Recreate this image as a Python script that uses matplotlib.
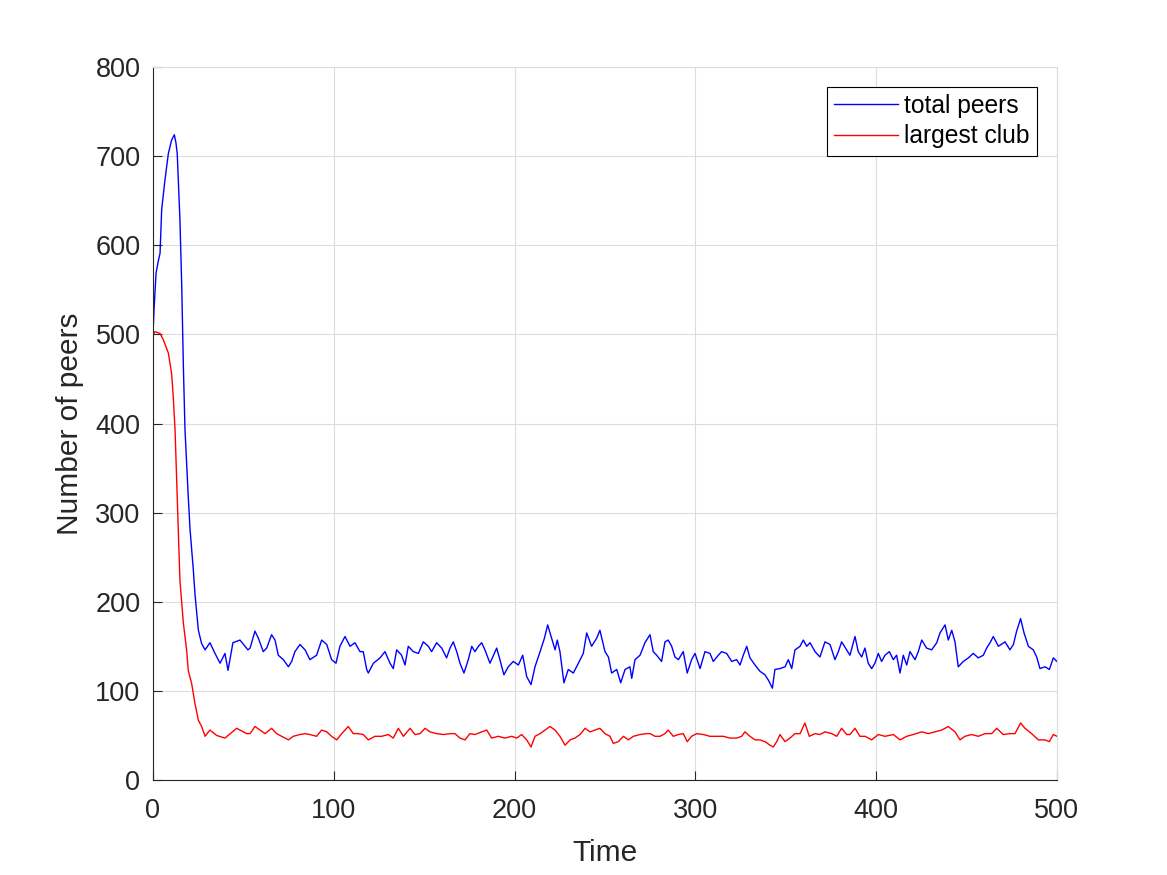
import matplotlib.pyplot as plt

# total peers (blue)
t_total = [0, 0.55, 1.7, 2.9, 3.9, 4.8, 6.6, 8.5, 10.3, 11.8, 12.7, 13.4, 14.9, 15.9, 16.8,
           17.7, 19.5, 20.5, 22.3, 23.2, 24.2, 25.1, 26.9, 28.8, 31.5, 34.3, 37.1, 39.8, 41.5,
           44.2, 48.1, 52.5,
           53.7, 56.4, 58.3, 61.0, 62.9, 65.6, 67.5, 69.3, 72.1, 74.9, 76.7, 78.5, 81.3, 84.1,
           86.8, 90.5, 93.3, 96.1, 98.8, 101.2, 103.4, 106.2, 109.0, 111.7, 114.5, 116.3, 118.2,
           119.1, 121.9, 125.6, 128.3, 131.1, 132.9, 134.8, 137.5, 139.4, 141.2, 144.0, 146.8,
           149.5, 152.3, 154.1, 156.9, 159.7, 162.4,
           164.3, 166.1, 168.0, 169.8, 172.0, 174.4, 176.3, 178.1, 180.0, 181.8, 183.6, 186.4,
           190.1, 191.9, 194.1, 196.5, 199.3, 202.1, 204.5, 206.7, 209.1, 211.3, 214.1, 216.5,
           218.3, 220.5, 222.4, 223.6, 225.1, 227.3, 229.7, 232.5, 235.3, 238.0, 239.9, 242.6,
           245.4, 247.2, 250.0, 251.9, 253.7, 256.5, 258.7, 261.1, 263.8, 264.8, 266.6, 269.4,
           272.1, 274.9,
           276.7, 278.6, 281.3, 283.2, 285.0, 286.9, 288.7, 290.6, 293.3, 295.5, 297.9, 299.8,
           302.6, 305.3, 308.1, 309.9, 312.7, 314.5, 317.3, 320.1, 322.8, 324.7, 326.5, 328.4,
           330.2, 333.0, 335.7, 338.5, 340.4, 342.6, 344.0, 346.8, 349.6, 351.4, 353.3, 355.1,
           357.9, 359.7, 361.6, 363.4, 366.2, 368.9, 371.7, 374.5, 377.2, 379.1, 380.9, 383.7,
           385.5,
           388.3, 390.1, 392.0, 393.8, 395.6, 397.5, 399.3, 401.2, 403.0, 404.9, 407.3, 409.5,
           411.3, 413.2, 415.0, 416.9, 418.7, 421.5, 423.3, 425.2, 427.9, 430.7, 433.5, 435.3,
           438.1, 439.9, 441.8, 443.6, 445.4, 448.2, 451.0, 453.7, 456.5, 459.3, 461.1, 463.0,
           464.8, 467.6, 471.3, 474.0, 475.9, 477.7, 479.9, 481.8, 484.2, 486.9, 488.8, 490.6,
           493.4, 495.8, 498.0, 500.0]
total_peers = [500, 527, 569, 582, 591, 640, 673, 703, 718, 724, 715, 703, 629, 554, 464,
               393, 318, 281, 236, 209, 187, 168, 153, 146, 154, 142, 131, 142, 123,
               154, 157, 146,
               148, 167, 159, 144, 148, 163, 157, 140, 135, 127, 133, 144, 152, 146,
               135, 140, 157, 152, 135, 131, 150, 161, 150, 154, 144, 144, 124,
               120, 131, 137, 144, 131, 125, 146, 140, 129, 150, 144, 142,
               155, 150, 144, 154, 148, 137,
               148, 155, 144, 131, 120, 135, 150, 144, 150, 154, 146, 131,
               148, 135, 118, 127, 133, 129, 140, 116, 107, 127, 144, 159,
               174, 159, 146, 157, 144, 109, 124, 120, 131, 142, 165, 150,
               159, 168, 144, 138, 120, 124, 109, 124, 127, 114, 135, 140,
               154, 163,
               144, 140, 133, 155, 157, 150, 138, 135, 144, 120, 135, 142,
               125, 144, 142, 133, 140, 144, 142, 133, 135, 129, 140, 150,
               137, 129, 122, 118, 112, 103, 124, 125, 127, 135, 125, 146,
               150, 157, 150, 154, 144, 138, 155, 152, 135, 144, 155, 146,
               140,
               161, 144, 138, 148, 131, 125, 131, 142, 133, 140, 144, 135,
               140, 120, 140, 129, 144, 135, 144, 157, 148, 146, 154, 165,
               174, 157, 168, 155, 127, 133, 137, 142, 137, 140, 148, 154,
               161, 150, 155, 146, 152, 167, 181, 165, 150, 146, 138, 125,
               127, 124, 137, 133]

# largest club (red)
t_club = [0, 1.1, 3.9, 5.7, 8.5, 10.3, 11.2, 12.2, 13.1, 14.0, 14.9, 15.9, 16.8, 18.6, 19.5,
          21.4, 23.2, 25.1, 26.9, 28.8, 31.5, 35.2, 39.8, 46.3, 51.8,
          53.7, 56.4, 59.2, 62.0, 65.6, 68.4, 71.2, 74.9, 77.6, 81.3, 84.1, 86.8, 90.5, 93.3,
          96.1, 98.8, 101.6, 104.4, 108.0, 110.8, 113.6, 116.3, 119.1, 122.8, 126.5, 130.2,
          132.9, 135.7, 138.5, 142.2, 144.9, 147.7, 150.5, 153.2, 156.9, 160.6,
          164.3, 167.0, 169.8, 172.6, 175.3, 178.1, 181.8, 184.6, 187.3, 191.0, 194.7, 198.4,
          201.2, 203.9, 206.7, 209.1, 211.3, 214.1, 216.8, 219.6, 222.4, 225.1, 227.9, 230.7,
          233.4, 236.2, 239.0, 241.7, 244.5, 247.2, 250.0, 252.8, 254.6, 257.4, 260.2, 262.9,
          265.7, 269.4, 273.1,
          274.9, 277.7, 280.4, 283.2, 285.0, 287.8, 290.6, 293.3, 295.5, 297.9, 300.7, 304.4,
          308.1, 311.8, 315.5, 319.1, 322.8, 325.6, 327.4, 330.2, 333.0, 335.7, 338.5, 341.3,
          343.1, 345.0, 346.8, 349.6, 352.3, 355.1, 357.9, 360.6, 363.0, 366.2, 368.9, 371.7,
          375.4, 378.2, 380.9, 383.7,
          385.5, 388.3, 391.0, 393.8, 397.5, 401.2, 404.9, 409.5, 413.2, 416.9, 420.5, 425.2,
          428.8, 432.5, 436.2, 439.9, 443.6, 446.4, 449.1, 452.8, 456.5, 460.2, 463.9, 466.7,
          470.3, 474.0, 476.8, 479.9, 482.3, 486.0, 489.7, 493.4, 495.8, 498.0, 500.0]
largest_club = [500, 503, 501, 494, 479, 456, 430, 393, 337, 281, 224, 198, 176, 146, 123,
                108, 86, 67, 60, 49, 56, 50, 47, 58, 52,
                52, 60, 56, 52, 58, 52, 49, 45, 49, 51, 52, 51, 49, 56,
                54, 49, 45, 52, 60, 52, 52, 51, 45, 49, 49, 51,
                47, 58, 49, 58, 51, 52, 58, 54, 52, 51,
                52, 52, 47, 45, 52, 51, 54, 56, 47, 49, 47, 49,
                47, 51, 45, 37, 49, 52, 56, 60, 56, 49, 39, 45,
                47, 51, 58, 54, 56, 58, 52, 49, 41, 43, 49, 45,
                49, 51, 52,
                52, 49, 49, 52, 56, 49, 51, 52, 43, 49, 52, 51,
                49, 49, 49, 47, 47, 49, 54, 49, 45, 45, 43, 39,
                37, 43, 51, 43, 47, 52, 52, 64, 49, 52, 51, 54,
                52, 49, 58, 51,
                51, 58, 49, 49, 45, 51, 49, 51, 45, 49, 51, 54,
                52, 54, 56, 60, 54, 45, 49, 51, 49, 52, 52, 58,
                51, 52, 52, 64, 58, 52, 45, 45, 43, 51, 49]

x_ticks = [0, 100, 200, 300, 400, 500]
y_ticks = [0, 100, 200, 300, 400, 500, 600, 700, 800]

plt.rcParams['font.family'] = ['Liberation Sans', 'DejaVu Sans']
dark = '#262626'
light = '#dcdcdc'

fig = plt.figure(figsize=(11.67, 8.75), dpi=100)
ax = fig.add_axes([0.1311, 0.1086, 0.7746, 0.8148])

ax.plot(t_total, total_peers, color='#0000ff', linewidth=1.0, label='total peers')
ax.plot(t_club, largest_club, color='#ff0000', linewidth=1.0, label='largest club')

ax.set_xlim(0, 500)
ax.set_ylim(0, 800)
ax.set_xticks(x_ticks)
ax.set_yticks(y_ticks)
ax.tick_params(direction='in', length=6.5, width=0.8, colors=dark, labelsize=19.5)
ax.tick_params(axis='x', pad=13)
ax.tick_params(axis='y', pad=9)

# box off: only left and bottom axis lines are dark
ax.spines['left'].set_color(dark)
ax.spines['bottom'].set_color(dark)
ax.spines['top'].set_color(light)
ax.spines['right'].set_color(light)
for s in ax.spines.values():
    s.set_linewidth(0.8)

ax.grid(color=light, linewidth=0.8)
ax.set_axisbelow(True)

ax.set_xlabel('Time', fontsize=21.5, color=dark, labelpad=11)
ax.set_ylabel('Number of peers', fontsize=21.5, color=dark, labelpad=8)

leg = ax.legend(loc='upper right', fontsize=17.7, fancybox=False, framealpha=1,
                edgecolor='black', handlelength=2.6, handletextpad=0.25,
                borderpad=0.3, labelspacing=0.25, borderaxespad=0.8)
leg.get_frame().set_linewidth(0.8)

plt.savefig('out.png', dpi=100)
